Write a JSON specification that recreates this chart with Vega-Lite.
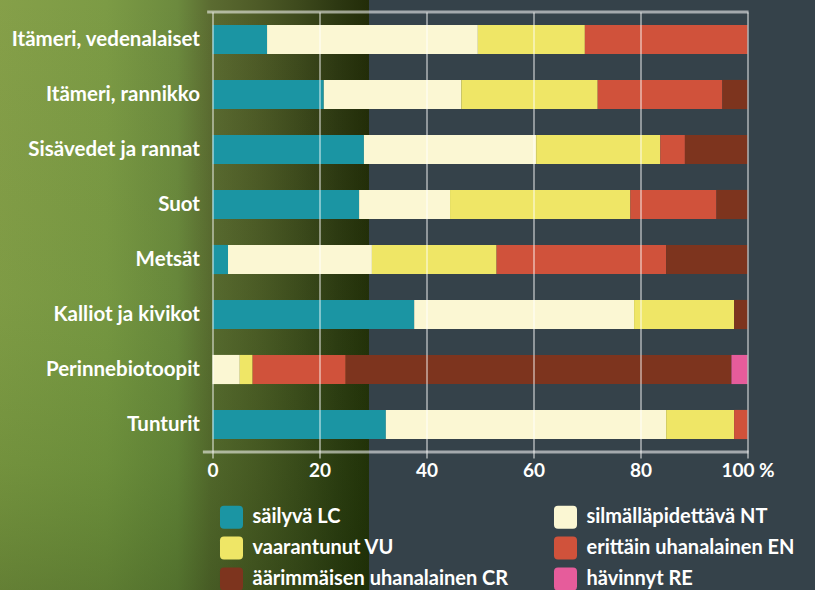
{
  "$schema": "https://vega.github.io/schema/vega-lite/v6.json",
  "width": 535,
  "height": 440,
  "autosize": {"type": "none"},
  "padding": {"left": 212.5, "top": 12, "right": 67.5, "bottom": 138},
  "background": "#35424a",
  "config": {
    "view": {"stroke": null},
    "font": "Lato",
    "axis": {"labelFont": "Lato", "labelFontWeight": "bold", "labelColor": "#ffffff"},
    "legend": {"labelFont": "Lato", "labelFontWeight": "bold"}
  },
  "resolve": {"scale": {"y": "independent"}, "axis": {"y": "independent"}},
  "layer": [
    {
      "data": {"values": [{}]},
      "mark": {
        "type": "rect",
        "color": {
          "gradient": "linear", "x1": 0, "y1": 0, "x2": 1, "y2": 0,
          "stops": [
            {"offset": 0, "color": "#86a049"},
            {"offset": 0.3, "color": "#7c9b45"},
            {"offset": 0.49, "color": "#6c8a3e"},
            {"offset": 0.58, "color": "#5b6b31"},
            {"offset": 0.7, "color": "#4e5b27"},
            {"offset": 0.81, "color": "#3e4a1d"},
            {"offset": 0.92, "color": "#2c3711"},
            {"offset": 1, "color": "#222c08"}
          ]
        }
      },
      "encoding": {
        "x": {"datum": -41, "type": "quantitative", "scale": {"domain": [0, 100], "nice": false, "zero": false}},
        "x2": {"datum": 29.25},
        "y": {"datum": 1.04, "type": "quantitative", "scale": {"domain": [0, 1], "nice": false, "zero": false}, "axis": null},
        "y2": {"datum": -0.33}
      }
    },
    {
      "data": {"values": [{}]},
      "mark": {
        "type": "rect",
        "color": {
          "gradient": "linear", "x1": 0, "y1": 0, "x2": 0, "y2": 1,
          "stops": [
            {"offset": 0, "color": "rgba(40,60,10,0)"},
            {"offset": 0.5, "color": "rgba(40,100,20,0.08)"},
            {"offset": 0.78, "color": "rgba(30,80,10,0.18)"},
            {"offset": 1, "color": "rgba(20,50,5,0.3)"}
          ]
        }
      },
      "encoding": {
        "x": {"datum": -41, "type": "quantitative"},
        "x2": {"datum": 29.25},
        "y": {"datum": 1.04, "type": "quantitative", "scale": {"domain": [0, 1], "nice": false, "zero": false}, "axis": null},
        "y2": {"datum": -0.33}
      }
    },
    {
      "data": {
        "values": [
          {"elinymparisto": "Itämeri, vedenalaiset", "luokka": "säilyvä LC", "jarjestys": 1, "osuus": 10.2},
          {"elinymparisto": "Itämeri, vedenalaiset", "luokka": "silmälläpidettävä NT", "jarjestys": 2, "osuus": 39.4},
          {"elinymparisto": "Itämeri, vedenalaiset", "luokka": "vaarantunut VU", "jarjestys": 3, "osuus": 20.0},
          {"elinymparisto": "Itämeri, vedenalaiset", "luokka": "erittäin uhanalainen EN", "jarjestys": 4, "osuus": 30.4},
          {"elinymparisto": "Itämeri, rannikko", "luokka": "säilyvä LC", "jarjestys": 1, "osuus": 20.8},
          {"elinymparisto": "Itämeri, rannikko", "luokka": "silmälläpidettävä NT", "jarjestys": 2, "osuus": 25.7},
          {"elinymparisto": "Itämeri, rannikko", "luokka": "vaarantunut VU", "jarjestys": 3, "osuus": 25.5},
          {"elinymparisto": "Itämeri, rannikko", "luokka": "erittäin uhanalainen EN", "jarjestys": 4, "osuus": 23.3},
          {"elinymparisto": "Itämeri, rannikko", "luokka": "äärimmäisen uhanalainen CR", "jarjestys": 5, "osuus": 4.7},
          {"elinymparisto": "Sisävedet ja rannat", "luokka": "säilyvä LC", "jarjestys": 1, "osuus": 28.3},
          {"elinymparisto": "Sisävedet ja rannat", "luokka": "silmälläpidettävä NT", "jarjestys": 2, "osuus": 32.2},
          {"elinymparisto": "Sisävedet ja rannat", "luokka": "vaarantunut VU", "jarjestys": 3, "osuus": 23.2},
          {"elinymparisto": "Sisävedet ja rannat", "luokka": "erittäin uhanalainen EN", "jarjestys": 4, "osuus": 4.6},
          {"elinymparisto": "Sisävedet ja rannat", "luokka": "äärimmäisen uhanalainen CR", "jarjestys": 5, "osuus": 11.7},
          {"elinymparisto": "Suot", "luokka": "säilyvä LC", "jarjestys": 1, "osuus": 27.4},
          {"elinymparisto": "Suot", "luokka": "silmälläpidettävä NT", "jarjestys": 2, "osuus": 17.0},
          {"elinymparisto": "Suot", "luokka": "vaarantunut VU", "jarjestys": 3, "osuus": 33.7},
          {"elinymparisto": "Suot", "luokka": "erittäin uhanalainen EN", "jarjestys": 4, "osuus": 16.1},
          {"elinymparisto": "Suot", "luokka": "äärimmäisen uhanalainen CR", "jarjestys": 5, "osuus": 5.8},
          {"elinymparisto": "Metsät", "luokka": "säilyvä LC", "jarjestys": 1, "osuus": 2.9},
          {"elinymparisto": "Metsät", "luokka": "silmälläpidettävä NT", "jarjestys": 2, "osuus": 26.9},
          {"elinymparisto": "Metsät", "luokka": "vaarantunut VU", "jarjestys": 3, "osuus": 23.3},
          {"elinymparisto": "Metsät", "luokka": "erittäin uhanalainen EN", "jarjestys": 4, "osuus": 31.7},
          {"elinymparisto": "Metsät", "luokka": "äärimmäisen uhanalainen CR", "jarjestys": 5, "osuus": 15.2},
          {"elinymparisto": "Kalliot ja kivikot", "luokka": "säilyvä LC", "jarjestys": 1, "osuus": 37.7},
          {"elinymparisto": "Kalliot ja kivikot", "luokka": "silmälläpidettävä NT", "jarjestys": 2, "osuus": 41.1},
          {"elinymparisto": "Kalliot ja kivikot", "luokka": "vaarantunut VU", "jarjestys": 3, "osuus": 18.7},
          {"elinymparisto": "Kalliot ja kivikot", "luokka": "äärimmäisen uhanalainen CR", "jarjestys": 5, "osuus": 2.5},
          {"elinymparisto": "Perinnebiotoopit", "luokka": "silmälläpidettävä NT", "jarjestys": 2, "osuus": 5.1},
          {"elinymparisto": "Perinnebiotoopit", "luokka": "vaarantunut VU", "jarjestys": 3, "osuus": 2.4},
          {"elinymparisto": "Perinnebiotoopit", "luokka": "erittäin uhanalainen EN", "jarjestys": 4, "osuus": 17.4},
          {"elinymparisto": "Perinnebiotoopit", "luokka": "äärimmäisen uhanalainen CR", "jarjestys": 5, "osuus": 72.1},
          {"elinymparisto": "Perinnebiotoopit", "luokka": "hävinnyt RE", "jarjestys": 6, "osuus": 3.0},
          {"elinymparisto": "Tunturit", "luokka": "säilyvä LC", "jarjestys": 1, "osuus": 32.4},
          {"elinymparisto": "Tunturit", "luokka": "silmälläpidettävä NT", "jarjestys": 2, "osuus": 52.4},
          {"elinymparisto": "Tunturit", "luokka": "vaarantunut VU", "jarjestys": 3, "osuus": 12.7},
          {"elinymparisto": "Tunturit", "luokka": "erittäin uhanalainen EN", "jarjestys": 4, "osuus": 2.5}
        ]
      },
      "mark": {"type": "bar"},
      "encoding": {
        "y": {
          "field": "elinymparisto", "type": "nominal", "sort": null,
          "scale": {"paddingInner": 0.47, "paddingOuter": 0.235},
          "axis": {
            "title": null, "ticks": false, "domain": false, "grid": false,
            "labelFontSize": 20.5, "labelPadding": 13, "labelLimit": 300, "zindex": 2
          }
        },
        "x": {
          "field": "osuus", "type": "quantitative", "stack": "zero",
          "scale": {"domain": [0, 100], "nice": false, "zero": false},
          "axis": {
            "title": null, "values": [0, 20, 40, 60, 80, 100],
            "labelExpr": "datum.value == 100 ? '100 %' : datum.label",
            "labelFontSize": 19, "labelPadding": 3, "labelFlush": false,
            "grid": true, "gridColor": "#ffffff", "gridOpacity": 0.45, "gridWidth": 2,
            "ticks": true, "tickColor": "#ffffff", "tickOpacity": 0.45, "tickWidth": 2, "tickSize": 6,
            "domain": false, "zindex": 2
          }
        },
        "order": {"field": "jarjestys", "type": "quantitative", "sort": "ascending"},
        "color": {
          "field": "luokka", "type": "nominal",
          "scale": {
            "domain": ["säilyvä LC", "silmälläpidettävä NT", "vaarantunut VU", "erittäin uhanalainen EN", "äärimmäisen uhanalainen CR", "hävinnyt RE"],
            "range": ["#1b95a3", "#fbf7d3", "#efe666", "#d0523b", "#7d341e", "#e65c9b"]
          },
          "legend": {
            "title": null, "orient": "bottom", "direction": "horizontal", "columns": 2,
            "symbolType": "M-0.65,-1H0.65Q1,-1 1,-0.65V0.65Q1,1 0.65,1H-0.65Q-1,1 -1,0.65V-0.65Q-1,-1 -0.65,-1Z",
            "symbolSize": 530, "symbolStrokeWidth": 0, "symbolOpacity": 1,
            "labelColor": "#ffffff", "labelFontSize": 20, "labelOffset": 9, "labelLimit": 400,
            "rowPadding": 7, "columnPadding": 45, "offset": 18, "padding": 7, "zindex": 3
          }
        }
      }
    },
    {
      "data": {"values": [{}]},
      "mark": {"type": "rule", "color": "#ffffff", "opacity": 0.55, "strokeWidth": 3},
      "encoding": {
        "x": {"datum": -1.0, "type": "quantitative"},
        "x2": {"datum": 100.2},
        "y": {"datum": 1, "type": "quantitative", "scale": {"domain": [0, 1], "nice": false, "zero": false}, "axis": null}
      }
    },
    {
      "data": {"values": [{}]},
      "mark": {"type": "rule", "color": "#ffffff", "opacity": 0.55, "strokeWidth": 3},
      "encoding": {
        "x": {"datum": -1.8, "type": "quantitative"},
        "x2": {"datum": 100.2},
        "y": {"datum": 0, "type": "quantitative", "scale": {"domain": [0, 1], "nice": false, "zero": false}, "axis": null}
      }
    }
  ]
}
